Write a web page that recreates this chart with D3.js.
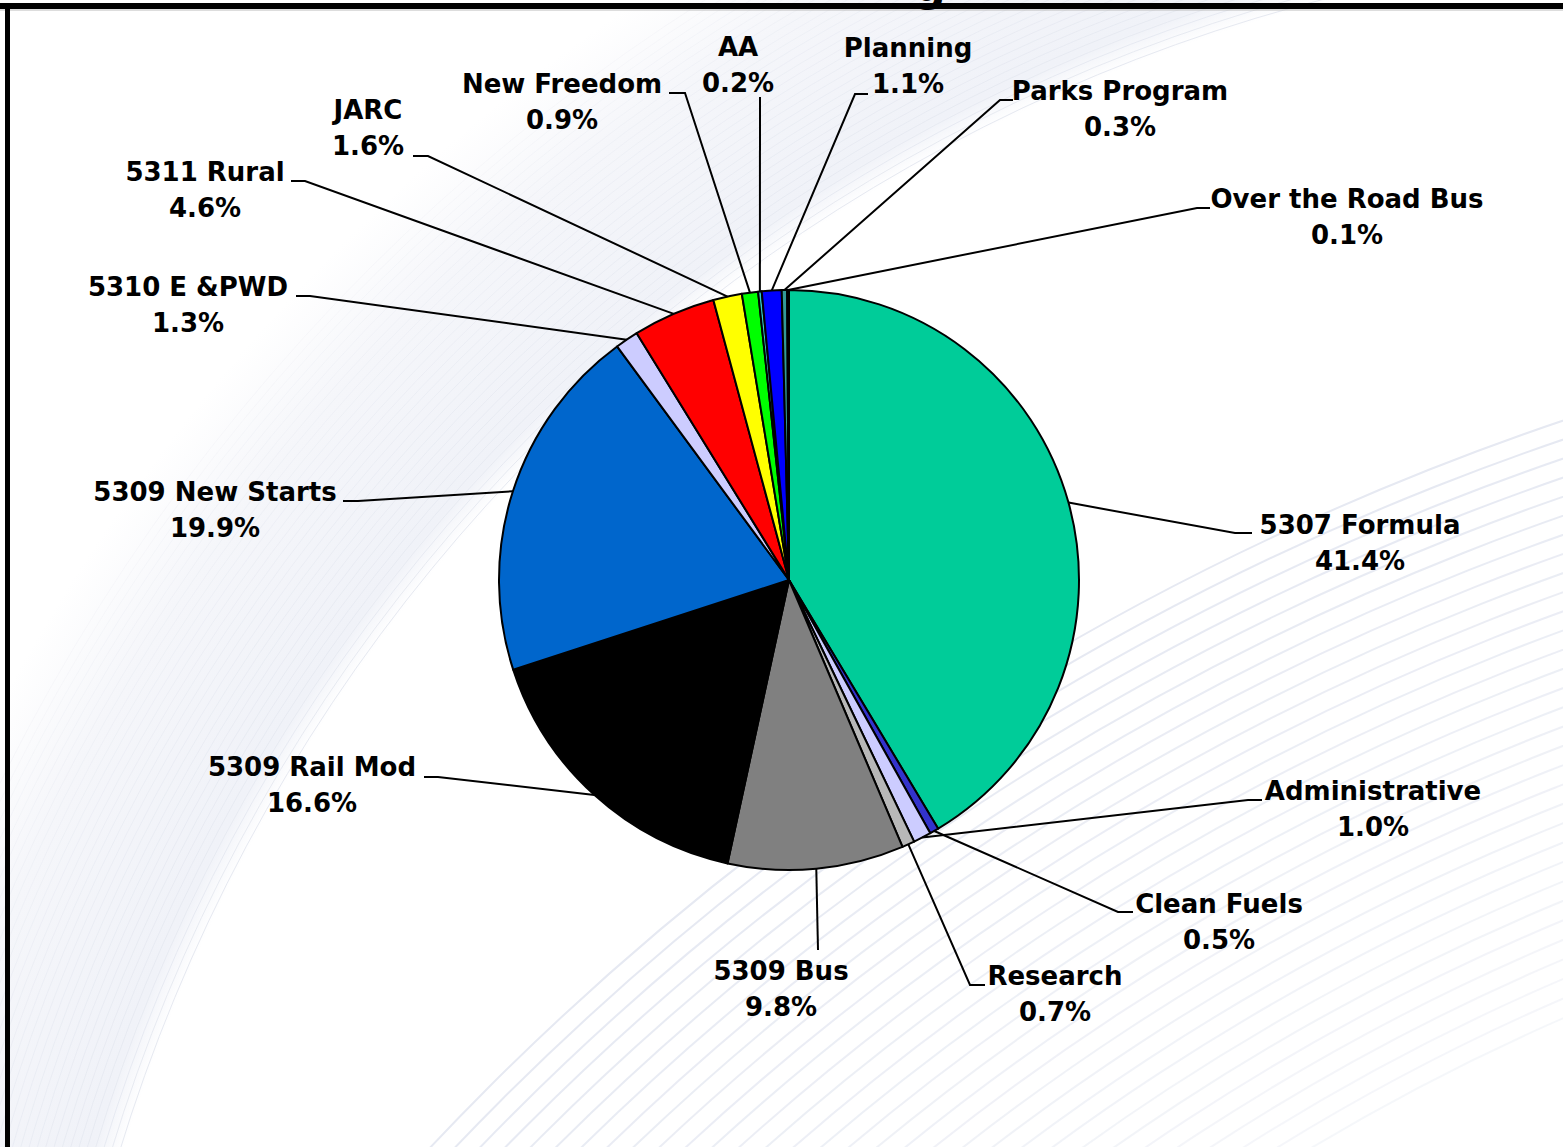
<!DOCTYPE html>
<html lang="en">
<head>
<meta charset="UTF-8">
<title>Program funding share</title>
<script src="https://cdnjs.cloudflare.com/ajax/libs/d3/7.8.5/d3.min.js"></script>
<style>
  html, body { margin: 0; padding: 0; background: #fff; }
  svg { display: block; }
  text { font-family: "DejaVu Sans", Verdana, sans-serif; font-weight: bold; fill: #000; }
</style>
</head>
<body>
<div id="chart"></div>
<script>
// data, clockwise from 12 o'clock
const programs = ["5307 Formula", "Clean Fuels", "Administrative", "Research", "5309 Bus",
  "5309 Rail Mod", "5309 New Starts", "5310 E &PWD", "5311 Rural", "JARC",
  "New Freedom", "AA", "Planning", "Parks Program", "Over the Road Bus"];
const shares = [41.4, 0.5, 1.0, 0.7, 9.8, 16.6, 19.9, 1.3, 4.6, 1.6, 0.9, 0.2, 1.1, 0.3, 0.1];
const colors = ["#00CC99", "#3333CC", "#CCCCFF", "#B8B8B8", "#808080", "#000000", "#0066CC",
  "#CCCCFF", "#FF0000", "#FFFF00", "#00FF00", "#33CCCC", "#0000FF", "#339999", "#006666"];

// label placement (text centre, first baseline, leader elbow and end)
const labelLayout = {
  "5307 Formula":      { x: 1360, y: 534, elbow: [1235, 533], end: [1252, 533] },
  "Administrative":    { x: 1373, y: 800, elbow: [1248, 800], end: [1262, 800] },
  "Clean Fuels":       { x: 1219, y: 913, elbow: [1118, 912], end: [1133, 912] },
  "Research":          { x: 1055, y: 985, elbow: [970, 985],  end: [985, 985] },
  "5309 Bus":          { x: 781,  y: 980, elbow: [818, 950],  end: [818, 950] },
  "5309 Rail Mod":     { x: 312,  y: 776, elbow: [438, 777],  end: [424, 777] },
  "5309 New Starts":   { x: 215,  y: 501, elbow: [358, 501],  end: [343, 501] },
  "5310 E &PWD":       { x: 188,  y: 296, elbow: [310, 296],  end: [296, 296] },
  "5311 Rural":        { x: 205,  y: 181, elbow: [305, 181],  end: [291, 181] },
  "JARC":              { x: 368,  y: 119, elbow: [428, 156],  end: [413, 156] },
  "New Freedom":       { x: 562,  y: 93,  elbow: [685, 93],   end: [669, 93] },
  "AA":                { x: 738,  y: 56,  elbow: [760, 97],   end: [760, 97] },
  "Planning":          { x: 908,  y: 57,  elbow: [855, 94],   end: [868, 94] },
  "Parks Program":     { x: 1120, y: 100, elbow: [1000, 100], end: [1013, 100] },
  "Over the Road Bus": { x: 1347, y: 208, elbow: [1197, 208], end: [1210, 208] }
};

const W = 1563, H = 1147;
const cx = 789, cy = 580, R = 290;

const svg = d3.select("#chart").append("svg").attr("width", W).attr("height", H);

// background swoosh
const bg = svg.append("g");
const defs = svg.append("defs");
const gradA = defs.append("radialGradient").attr("id", "bandA")
  .attr("gradientUnits", "userSpaceOnUse").attr("cx", 1750).attr("cy", 1650).attr("r", 1990);
gradA.append("stop").attr("offset", "0.855").attr("stop-color", "#ffffff");
gradA.append("stop").attr("offset", "0.87").attr("stop-color", "#f0f2f8");
gradA.append("stop").attr("offset", "0.95").attr("stop-color", "#f5f6fa");
gradA.append("stop").attr("offset", "1").attr("stop-color", "#ffffff");
bg.append("circle").attr("cx", 1750).attr("cy", 1650).attr("r", 1990).attr("fill", "url(#bandA)");
d3.range(1705, 1960, 8).forEach((r, i) => {
  bg.append("circle").attr("cx", 1750).attr("cy", 1650).attr("r", r)
    .attr("fill", "none").attr("stroke", "#e6e9f1").attr("stroke-width", 1)
    .attr("opacity", Math.max(0.25, 1 - i * 0.025));
});
d3.range(2774, 2200, -18).forEach((r, i) => {
  bg.append("circle").attr("cx", 2450).attr("cy", 3049).attr("r", r)
    .attr("fill", "none").attr("stroke", "#e6e9f2").attr("stroke-width", 2)
    .attr("opacity", Math.max(0.3, 1 - i * 0.02));
});

// pie
const pie = d3.pie().sort(null).value(d => d.v);
const arcs = pie(programs.map((p, i) => ({ name: p, v: shares[i], c: colors[i] })));
const arc = d3.arc().innerRadius(0).outerRadius(R);

const g = svg.append("g").attr("transform", `translate(${cx},${cy})`);
g.selectAll("path").data(arcs).join("path")
  .attr("d", arc)
  .attr("fill", d => d.data.c)
  .attr("stroke", "#000").attr("stroke-width", 2).attr("stroke-linejoin", "round");

// leader lines
const rim = d => {
  const a = (d.startAngle + d.endAngle) / 2;
  return [cx + R * Math.sin(a), cy - R * Math.cos(a)];
};
svg.append("g").selectAll("polyline").data(arcs).join("polyline")
  .attr("points", d => {
    const L = labelLayout[d.data.name];
    return [rim(d), L.elbow, L.end].map(p => p.join(",")).join(" ");
  })
  .attr("fill", "none").attr("stroke", "#000").attr("stroke-width", 2);

// labels
const lab = svg.append("g").selectAll("text").data(arcs).join("text")
  .attr("text-anchor", "middle").attr("font-size", 26)
  .attr("x", d => labelLayout[d.data.name].x)
  .attr("y", d => labelLayout[d.data.name].y);
lab.append("tspan").text(d => d.data.name);
lab.append("tspan").attr("x", d => labelLayout[d.data.name].x).attr("dy", 36)
  .text(d => d3.format(".1f")(d.data.v) + "%");

// frame and the title, cut off at the top edge as in the source
svg.append("line").attr("x1", 0).attr("x2", W).attr("y1", 6).attr("y2", 6)
  .attr("stroke", "#000").attr("stroke-width", 6);
svg.append("line").attr("x1", 0).attr("x2", W).attr("y1", 10).attr("y2", 10)
  .attr("stroke", "#bbb").attr("stroke-width", 1);
svg.append("line").attr("x1", 7.5).attr("x2", 7.5).attr("y1", 3).attr("y2", H)
  .attr("stroke", "#000").attr("stroke-width", 5);
svg.append("text").attr("x", 930).attr("y", 1).attr("text-anchor", "middle")
  .attr("font-size", 44).text("g");
</script>
</body>
</html>
